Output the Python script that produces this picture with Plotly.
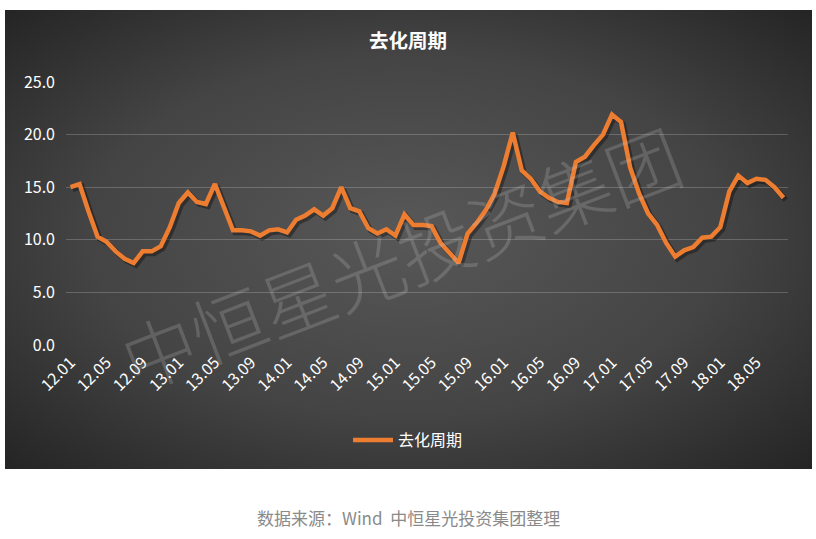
import base64
import plotly.graph_objects as go

# ---------------- data ----------------
years = ["12", "13", "14", "15", "16", "17", "18"]
months = ["01", "02", "03", "04", "05", "06", "07", "08", "09", "10", "11", "12"]
categories = [f"{y}.{m}" for y in years for m in months][:80]   # 12.01 ... 18.08

values = [
    15.0, 15.3, 12.7, 10.3, 9.8, 8.9, 8.2, 7.8, 8.9, 8.9,
    9.4, 11.2, 13.5, 14.5, 13.6, 13.4, 15.3, 13.0, 10.9, 10.9,
    10.8, 10.4, 10.9, 11.0, 10.7, 11.9, 12.3, 12.9, 12.3, 13.0,
    15.0, 13.0, 12.7, 11.1, 10.6, 11.0, 10.4, 12.4, 11.4, 11.4,
    11.3, 9.7, 8.7, 7.8, 10.6, 11.6, 12.8, 14.4, 17.0, 20.2,
    16.6, 15.8, 14.6, 14.0, 13.6, 13.5, 17.4, 17.9, 19.0, 20.0,
    21.9, 21.2, 16.9, 14.4, 12.5, 11.4, 9.7, 8.4, 9.0, 9.3,
    10.2, 10.3, 11.2, 14.6, 16.1, 15.4, 15.8, 15.7, 15.0, 14.0,
]
tick_labels = categories[::4]
y_ticks = [0, 5, 10, 15, 20, 25]
y_tick_text = ["0.0", "5.0", "10.0", "15.0", "20.0", "25.0"]

series_name = "去化周期"
title_text = "去化周期"
source_text = "数据来源：Wind  中恒星光投资集团整理"
watermark_text = "中恒星光投资集团"

# ---------------- layout geometry ----------------
W, H = 816, 539
L, R, T, B = 66, 28, 82, 194
pw, ph = W - L - R, H - T - B
FONT = "Noto Sans CJK SC, Microsoft YaHei, sans-serif"
ORANGE = "#ED7D31"

# radial gradient background panel as svg image
svg = (
    '<svg xmlns="http://www.w3.org/2000/svg" width="807" height="459" '
    'viewBox="0 0 807 459" preserveAspectRatio="none">'
    '<defs><radialGradient id="g" cx="50%" cy="50%" r="72%" fx="50%" fy="48%">'
    '<stop offset="0%" stop-color="#585858"/>'
    '<stop offset="55%" stop-color="#444444"/>'
    '<stop offset="100%" stop-color="#232323"/>'
    '</radialGradient></defs>'
    '<rect x="0" y="0" width="807" height="459" fill="url(#g)"/></svg>'
)
svg_uri = "data:image/svg+xml;base64," + base64.b64encode(svg.encode()).decode()

def px_x(x):
    return (x - L) / pw

def px_y(y):
    return (H - B - y) / ph

fig = go.Figure()

# shadow of the line (on shifted invisible axes)
fig.add_trace(go.Scatter(
    x=categories, y=values, mode="lines", xaxis="x2", yaxis="y2",
    line=dict(color="rgba(0,0,0,0.35)", width=5.5, shape="linear"),
    showlegend=False, hoverinfo="skip",
))
# main line
fig.add_trace(go.Scatter(
    x=categories, y=values, mode="lines", xaxis="x3", yaxis="y3",
    name=series_name,
    line=dict(color=ORANGE, width=4.5, shape="linear"),
))
# dummy on main axes so they render
fig.add_trace(go.Scatter(x=categories, y=[None] * len(categories), mode="lines",
                         showlegend=False, hoverinfo="skip"))

n = len(categories)
shift_y = 2.2 / (ph / 25)
shift_x = 2.2 / (pw / n)

axis_common = dict(showgrid=False, zeroline=False, showticklabels=False,
                   showline=False, ticks="")

fig.update_layout(
    width=W, height=H,
    margin=dict(l=L, r=R, t=T, b=B, pad=0),
    paper_bgcolor="white",
    plot_bgcolor="rgba(0,0,0,0)",
    font=dict(family=FONT, color="white", size=14),
    showlegend=True,
    legend=dict(
        orientation="h", x=px_x(408), xanchor="center", y=px_y(440), yanchor="middle",
        font=dict(size=16, color="white", family=FONT),
        bgcolor="rgba(0,0,0,0)", itemwidth=40,
    ),
    xaxis=dict(
        type="category", categoryorder="array", categoryarray=categories,
        range=[-0.5, n - 0.5],
        tickmode="array", tickvals=tick_labels, ticktext=tick_labels,
        tickangle=-45, tickfont=dict(size=16, color="white", family=FONT),
        showgrid=False, zeroline=False, showline=False, ticks="",
        ticklabelstandoff=4,
    ),
    yaxis=dict(
        range=[0, 25], tickmode="array", tickvals=y_ticks, ticktext=y_tick_text,
        tickfont=dict(size=16, color="white", family=FONT),
        showgrid=True, gridcolor="rgba(255,255,255,0.2)", gridwidth=1,
        zeroline=False, showline=False, ticks="", ticklabelstandoff=10,
    ),
    xaxis2=dict(type="category", categoryorder="array", categoryarray=categories,
                range=[-0.5 - shift_x, n - 0.5 - shift_x], overlaying="x", **axis_common),
    yaxis2=dict(range=[shift_y, 25 + shift_y], overlaying="y", **axis_common),
    xaxis3=dict(type="category", categoryorder="array", categoryarray=categories,
                range=[-0.5, n - 0.5], overlaying="x", **axis_common),
    yaxis3=dict(range=[0, 25], overlaying="y", **axis_common),
    images=[dict(
        source=svg_uri, xref="paper", yref="paper",
        x=px_x(5), y=px_y(10), sizex=(812 - 5) / pw, sizey=(469 - 10) / ph,
        xanchor="left", yanchor="top", sizing="stretch", layer="below",
    )],
    annotations=[
        dict(text=f"<b>{title_text}</b>", xref="paper", yref="paper",
             x=px_x(408), y=px_y(40), xanchor="center", yanchor="middle",
             showarrow=False, font=dict(size=19.5, color="white", family=FONT)),
        dict(text=source_text, xref="paper", yref="paper",
             x=px_x(408), y=px_y(517), xanchor="center", yanchor="middle",
             showarrow=False, font=dict(size=17, color="#8a8a8a", family=FONT)),
        dict(text=watermark_text, xref="paper", yref="paper",
             x=px_x(400), y=px_y(255), xanchor="center", yanchor="middle",
             textangle=-21, showarrow=False,
             font=dict(size=74, color="rgba(200,200,200,0.22)", family=FONT, weight=300)),
    ],
)

fig.write_html("out.html")
